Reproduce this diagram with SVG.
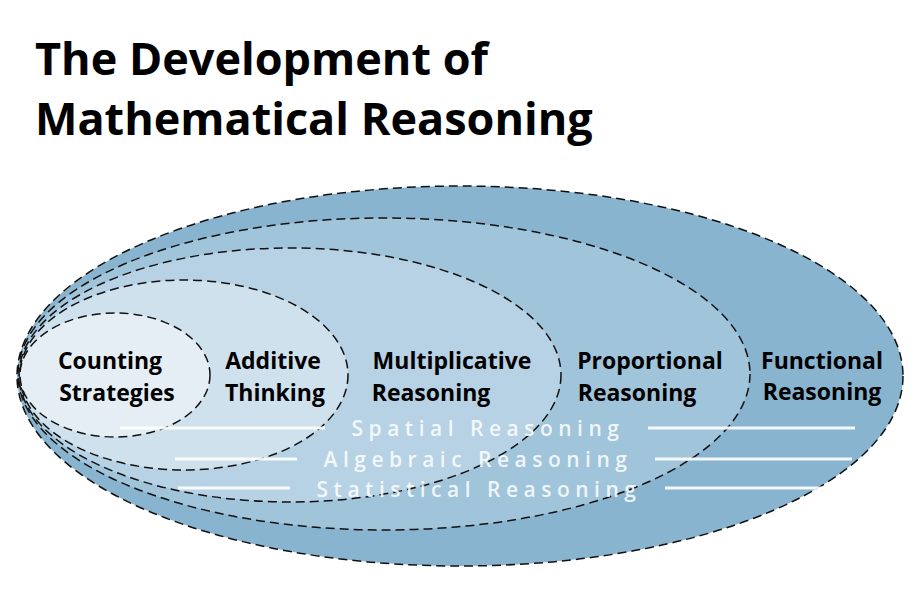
<svg xmlns="http://www.w3.org/2000/svg" width="922" height="599" viewBox="0 0 922 599">
<style>
.e{stroke:#111;stroke-width:1.5;stroke-dasharray:9 5}
.t{font-family:"Open Sans",sans-serif;font-weight:700;fill:#000}
.l{font-family:"Open Sans",sans-serif;font-size:23px;font-weight:700;fill:#000;text-anchor:middle}
.s{font-family:"Open Sans",sans-serif;font-size:21px;font-weight:600;fill:#fff;fill-opacity:0.85;letter-spacing:5.5px;text-anchor:middle}
.w{stroke:#fff;stroke-width:3;stroke-opacity:0.9}
</style>
<rect width="922" height="599" fill="#fff"/>
<text class="t" x="35" y="75" font-size="45">The Development of</text>
<text class="t" x="35" y="135" font-size="45">Mathematical Reasoning</text>
<g id="functional"><ellipse class="e" cx="460" cy="376" rx="443" ry="190" fill="#88b4cf"/><text class="l" x="822" y="369">Functional</text><text class="l" x="822" y="400">Reasoning</text></g>
<g id="proportional"><ellipse class="e" cx="384" cy="374" rx="366" ry="156" fill="#a0c4da"/><text class="l" x="650" y="369">Proportional</text><text class="l" x="637" y="401">Reasoning</text></g>
<g id="multiplicative"><ellipse class="e" cx="290" cy="375" rx="271" ry="127" fill="#b6d2e4"/><text class="l" x="452" y="369">Multiplicative</text><text class="l" x="431" y="401">Reasoning</text></g>
<g id="additive"><ellipse class="e" cx="184" cy="375" rx="164" ry="95" fill="#cfe1ed"/><text class="l" x="273" y="369">Additive</text><text class="l" x="275" y="401">Thinking</text></g>
<g id="counting"><ellipse class="e" cx="115" cy="375" rx="95" ry="62" fill="#e5eef5"/><text class="l" x="110" y="369">Counting</text><text class="l" x="117" y="401">Strategies</text></g>
<g id="connectors">
<line class="w" x1="120" y1="428" x2="325" y2="428"/><line class="w" x1="648" y1="428" x2="855" y2="428"/>
<line class="w" x1="175" y1="459" x2="297" y2="459"/><line class="w" x1="655" y1="459" x2="852" y2="459"/>
<line class="w" x1="178" y1="488" x2="290" y2="488"/><line class="w" x1="665" y1="488" x2="852" y2="488"/>
</g>
<g id="strands">
<text class="s" x="488" y="436">Spatial Reasoning</text>
<text class="s" x="478" y="467">Algebraic  Reasoning</text>
<text class="s" x="479" y="497">Statistical  Reasoning</text>
</g>
</svg>
